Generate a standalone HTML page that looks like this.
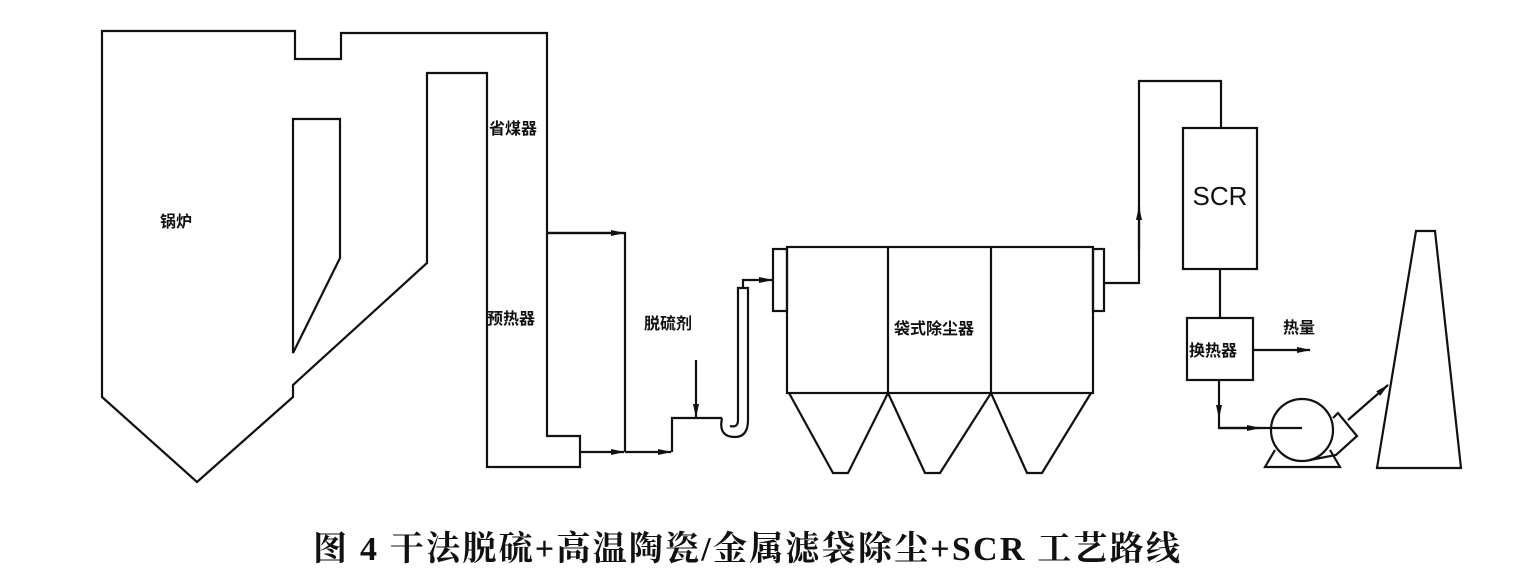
<!DOCTYPE html>
<html><head><meta charset="utf-8"><style>
html,body{margin:0;padding:0;background:#fff;}
svg{display:block}
</style></head><body>
<svg width="1536" height="575" viewBox="0 0 1536 575" xmlns="http://www.w3.org/2000/svg">
<defs><marker id="a" markerWidth="14" markerHeight="8" refX="13" refY="4" orient="auto" markerUnits="userSpaceOnUse"><path d="M0,1 L14,4 L0,7 Z" fill="#111"/></marker></defs>
<g fill="none" stroke="#111" stroke-width="2.2" stroke-linejoin="miter">
<path d="M102,31 H295 V59 H341 V33 H547 V436 H580 V467 H487 V73 H427 V263 L293,385 V397 L197,482 L102,397 Z"/>
<path d="M293,119 H340 V258 L293,353 Z"/>
<path d="M547,233 H625 V452" />
<path d="M547,233 H624" marker-end="url(#a)"/>
<path d="M580,452 H624" marker-end="url(#a)"/>
<path d="M625,452 H671" marker-end="url(#a)"/>
<path d="M672,452 V418 H722"/>
<path d="M696,360 V417" marker-end="url(#a)"/>
<path d="M722,418 Q718,437 735,437 Q748,437 748,420 V288 H738 V420 Q738,428 730,426"/>
<path d="M743,288 V280 H772" marker-end="url(#a)"/>
<rect x="773" y="249" width="14" height="62"/>
<rect x="787" y="247" width="306" height="146"/>
<path d="M888,247 V393 M991,247 V393"/>
<path d="M789,393 L833,473 H848 L888,393 L925,473 H940 L991,393 L1027,473 H1042 L1091,393"/>
<rect x="1093" y="249" width="11" height="62"/>
<path d="M1104,283 H1139 V81 H1221 V128"/>
<path d="M1139,250 V207" marker-end="url(#a)"/>
<rect x="1183" y="128" width="74" height="141"/>
<path d="M1220,269 V318"/>
<rect x="1187" y="318" width="66" height="62"/>
<path d="M1253,350 H1310" marker-end="url(#a)"/>
<path d="M1219,380 V418" marker-end="url(#a)"/>
<path d="M1219,418 V428 H1302"/>
<path d="M1219,428 H1260" marker-end="url(#a)"/>
<circle cx="1302" cy="430" r="31"/>
<path d="M1333,418 L1338,413 L1357,436 L1336,455 L1310,460"/>
<path d="M1275,450 L1265,467 H1340 L1330,450"/>
<path d="M1348,420 L1388,385" marker-end="url(#a)"/>
<path d="M1416,231 H1435 L1461,468 H1377 Z"/>
</g>
<g font-family="'Liberation Sans','Noto Sans CJK SC',sans-serif" font-weight="bold" fill="#111" font-size="16">
<text x="160" y="227">锅炉</text>
<text x="489" y="134">省煤器</text>
<text x="487" y="324">预热器</text>
<text x="644" y="329">脱硫剂</text>
<text x="894" y="334">袋式除尘器</text>
<text x="1189" y="356">换热器</text>
<text x="1283" y="333">热量</text>
</g>
<text x="1220" y="205" text-anchor="middle" font-family="'Liberation Sans',sans-serif" font-size="26" fill="#111">SCR</text>
<text x="313" y="560" textLength="867" lengthAdjust="spacing" font-family="'Liberation Serif','Noto Serif CJK SC',serif" font-weight="bold" font-size="34" fill="#111">图 4  干法脱硫+高温陶瓷/金属滤袋除尘+SCR 工艺路线</text>
</svg>
</body></html>
